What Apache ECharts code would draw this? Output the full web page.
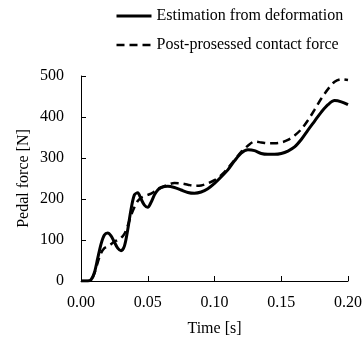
<!DOCTYPE html>
<html>
<head>
<meta charset="utf-8">
<script src="https://cdn.jsdelivr.net/npm/echarts@6/dist/echarts.min.js"></script>
<style>
  html, body { margin: 0; padding: 0; background: #fff; }
  #chart { width: 362px; height: 337px; }
</style>
</head>
<body>
<div id="chart"></div>
<script>
// time samples [s]
var times = [
  0, 0.005, 0.0075, 0.01, 0.0125, 0.015, 0.0175, 0.02, 0.0225, 0.025, 0.0275, 0.03,
  0.0325, 0.035, 0.0375, 0.04, 0.0425, 0.045, 0.0475, 0.05, 0.0525, 0.055, 0.0575, 0.06,
  0.065, 0.07, 0.075, 0.08, 0.085, 0.09, 0.095, 0.1, 0.105, 0.11, 0.115, 0.12, 0.125,
  0.13, 0.135, 0.14, 0.145, 0.15, 0.155, 0.16, 0.165, 0.17, 0.175, 0.18, 0.185, 0.19,
  0.195, 0.2
];
// pedal force [N]
var estimation = [
  0, 0, 3, 20, 55, 90, 112, 117, 110, 95, 80, 74,
  85, 125, 175, 210, 215, 200, 185, 180, 192, 210, 222, 228,
  231, 228, 222, 216, 214, 217, 225, 238, 254, 271, 293, 312, 320,
  318, 311, 309, 309, 311, 317, 327, 345, 368, 390, 412, 430, 440,
  437, 430
];
var contact = [
  0, 0, 2, 18, 45, 68, 80, 85, 90, 96, 100, 105,
  115, 135, 160, 180, 195, 203, 207, 210, 213, 218, 223, 228,
  235, 239, 238, 235, 232, 233, 238, 246, 258, 275, 295, 315, 330,
  340, 338, 336, 336, 338, 344, 355, 370, 392, 418, 445, 468, 486,
  492, 490
];
var seriesNames = ['Estimation from deformation', 'Post-prosessed contact force'];
var xTicks = [0, 0.05, 0.1, 0.15, 0.2];
var yTicks = [0, 100, 200, 300, 400, 500];

var FONT = '"Liberation Serif", "Times New Roman", serif';

function pairs(vals) {
  return times.map(function (t, i) { return [t, vals[i]]; });
}

var chart = echarts.init(document.getElementById('chart'), null, { renderer: 'canvas' });

var solidStyle = { color: '#000', width: 3 };
var dashStyle = { color: '#000', width: 2.5, type: [8, 5] };

var option = {
  animation: false,
  backgroundColor: '#fff',
  color: ['#000', '#000'],
  textStyle: { fontFamily: FONT, color: '#000' },
  legend: {
    orient: 'vertical',
    left: 110,
    top: 3,
    itemWidth: 35,
    itemHeight: 14,
    itemGap: 13,
    data: [
      { name: seriesNames[0], lineStyle: solidStyle },
      { name: seriesNames[1], lineStyle: dashStyle }
    ],
    // hide the marker circle, keep only the line sample
    itemStyle: { opacity: 0 },
    textStyle: { fontFamily: FONT, fontSize: 16, color: '#000' }
  },
  grid: {
    left: 81,
    right: 14,
    top: 76,
    bottom: 56,
    outerBoundsMode: 'none'
  },
  xAxis: {
    type: 'value',
    min: xTicks[0],
    max: xTicks[xTicks.length - 1],
    interval: 0.05,
    name: 'Time [s]',
    nameLocation: 'middle',
    nameGap: 40,
    nameMoveOverlap: false,
    nameTextStyle: { fontFamily: FONT, fontSize: 16, color: '#000' },
    axisLine: { show: true, lineStyle: { color: '#000', width: 1 } },
    axisTick: { show: true, inside: true, length: 5, lineStyle: { color: '#000' } },
    splitLine: { show: false },
    axisLabel: {
      margin: 14,
      fontFamily: FONT,
      fontSize: 16,
      color: '#000',
      formatter: function (v) { return v.toFixed(2); }
    }
  },
  yAxis: {
    type: 'value',
    min: yTicks[0],
    max: yTicks[yTicks.length - 1],
    interval: 100,
    name: 'Pedal force [N]',
    nameLocation: 'middle',
    nameGap: 49,
    nameMoveOverlap: false,
    nameTextStyle: { fontFamily: FONT, fontSize: 16, color: '#000' },
    axisLine: { show: true, lineStyle: { color: '#000', width: 1 } },
    axisTick: { show: true, inside: true, length: 5, lineStyle: { color: '#000' } },
    splitLine: { show: false },
    axisLabel: {
      margin: 17,
      fontFamily: FONT,
      fontSize: 16,
      color: '#000'
    }
  },
  series: [
    {
      name: seriesNames[0],
      type: 'line',
      data: pairs(estimation),
      smooth: 0.3,
      showSymbol: false,
      symbol: 'none',
      itemStyle: { color: '#000' },
      lineStyle: solidStyle
    },
    {
      name: seriesNames[1],
      type: 'line',
      data: pairs(contact),
      smooth: 0.3,
      showSymbol: false,
      symbol: 'none',
      z: 3,
      itemStyle: { color: '#000' },
      lineStyle: dashStyle
    }
  ]
};

chart.setOption(option);
</script>
</body>
</html>
